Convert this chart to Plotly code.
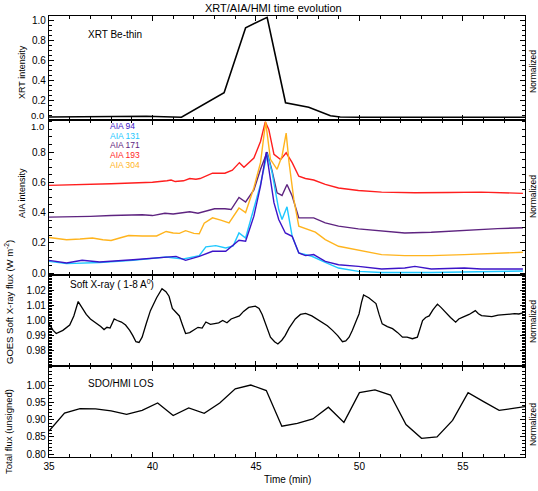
import plotly.graph_objects as go

# ---------------- data ----------------
xrt_t = [35.0, 38.25, 39.7, 41.4, 43.46, 44.5, 45.54, 46.43, 47.55, 48.6, 49.07, 50.0, 52.0, 54.0, 56.0, 58.0]
xrt_v = [0.03, 0.037, 0.037, 0.027, 0.273, 0.923, 1.027, 0.173, 0.127, 0.043, 0.03, 0.027, 0.027, 0.027, 0.027, 0.027]

aia193_t = [35.0, 36.0, 37.0, 38.0, 39.0, 40.0, 40.7, 40.9, 41.1, 41.5, 41.8, 42.1, 42.3, 42.9, 43.5, 43.86, 44.2, 44.42,
            44.9, 45.22, 45.45, 45.62, 45.87, 46.19, 46.46, 46.75, 47.07, 47.39, 47.79, 48.35, 48.99, 49.95, 51.07,
            52.68, 54.28, 55.88, 57.9]
aia193_v = [0.58, 0.582, 0.587, 0.59, 0.595, 0.60, 0.61, 0.615, 0.605, 0.61, 0.625, 0.62, 0.625, 0.66, 0.66, 0.68, 0.73, 0.70,
            0.76, 0.87, 1.0, 0.95, 0.785, 0.75, 0.795, 0.73, 0.64, 0.625, 0.615, 0.586, 0.562, 0.546, 0.535,
            0.531, 0.533, 0.535, 0.527]

aia171_t = [35.0, 36.0, 37.0, 38.0, 39.0, 39.5, 40.0, 40.6, 41.0, 41.4, 41.8, 42.2, 42.6, 43.0, 43.5, 43.8, 44.18, 44.5,
            44.9, 45.22, 45.54, 45.78, 46.02, 46.26, 46.5, 46.75, 47.07, 47.79, 48.35, 48.99, 49.95, 51.07, 52.19,
            53.47, 55.07, 56.68, 57.9]
aia171_v = [0.37, 0.37, 0.375, 0.38, 0.385, 0.385, 0.38, 0.395, 0.39, 0.40, 0.405, 0.395, 0.41, 0.425, 0.425, 0.42, 0.50, 0.47,
            0.55, 0.686, 0.80, 0.675, 0.53, 0.513, 0.586, 0.509, 0.365, 0.365, 0.332, 0.31, 0.292, 0.277, 0.265,
            0.27, 0.283, 0.294, 0.299]

aia304_t = [35.0, 35.85, 36.5, 37.1, 37.6, 38.0, 38.5, 38.85, 39.5, 40.2, 40.66, 41.0, 41.3, 41.6, 42.0, 42.26, 42.5, 42.9,
            43.3, 43.7, 44.18, 44.5, 44.9, 45.22, 45.47, 45.7, 46.02, 46.26, 46.46, 46.6, 46.83, 47.07, 47.87, 48.35,
            48.99, 49.95, 51.07, 52.19, 53.47, 55.07, 56.68, 57.9]
aia304_v = [0.235, 0.22, 0.225, 0.232, 0.22, 0.215, 0.235, 0.248, 0.245, 0.245, 0.275, 0.265, 0.262, 0.28, 0.262, 0.26, 0.33, 0.365,
            0.35, 0.332, 0.43, 0.40, 0.564, 0.73, 1.0, 0.752, 0.686, 0.774, 0.925, 0.73, 0.487, 0.31, 0.27, 0.221,
            0.177, 0.15, 0.122, 0.115, 0.115, 0.122, 0.128, 0.137]

aia131_t = [35.0, 35.85, 37.45, 39.06, 40.66, 41.5, 42.26, 42.58, 43.06, 43.54, 43.9, 44.18, 44.5, 44.9, 45.22, 45.54,
            45.78, 46.1, 46.26, 46.5, 46.75, 47.07, 47.7, 48.35, 48.99, 49.95, 51.07, 53.47, 55.88, 57.9]
aia131_v = [0.077, 0.062, 0.07, 0.084, 0.106, 0.093, 0.115, 0.173, 0.181, 0.166, 0.18, 0.265, 0.232, 0.42, 0.586, 0.79,
            0.664, 0.42, 0.354, 0.438, 0.243, 0.133, 0.111, 0.071, 0.033, 0.011, 0.004, 0.004, 0.009, 0.013]

aia94_t = [35.0, 35.85, 36.6, 37.45, 39.06, 40.3, 41.14, 41.6, 42.26, 42.9, 43.54, 44.18, 44.5, 44.9, 45.22, 45.5,
           45.62, 45.87, 46.1, 46.42, 46.75, 47.07, 47.39, 47.79, 48.35, 48.99, 49.95, 51.07, 52.19, 52.68, 53.47,
           55.07, 55.88, 57.9]
aia94_v = [0.084, 0.066, 0.084, 0.073, 0.088, 0.10, 0.11, 0.084, 0.11, 0.144, 0.144, 0.217, 0.21, 0.376, 0.575, 0.80,
           0.70, 0.465, 0.354, 0.265, 0.243, 0.133, 0.115, 0.122, 0.077, 0.055, 0.044, 0.027, 0.033, 0.044, 0.027,
           0.033, 0.027, 0.027]

goes_t = [35.0, 35.2, 35.35, 35.5, 35.67, 36.0, 36.2, 36.41, 36.6, 36.8, 37.0, 37.2, 37.34, 37.5, 37.66, 37.8, 37.95,
          38.15, 38.3, 38.5, 38.7, 38.9, 39.05, 39.2, 39.35, 39.5, 39.7, 39.9, 40.2, 40.46, 40.65, 40.8, 40.96, 41.1,
          41.3, 41.45, 41.6, 41.8, 41.95, 42.2, 42.4, 42.58, 42.8, 43.0, 43.2, 43.39, 43.6, 43.8, 44.0, 44.2, 44.4,
          44.65, 44.97, 45.15, 45.3, 45.5, 45.7, 45.9, 46.06, 46.25, 46.41, 46.6, 46.9, 47.15, 47.4, 47.7, 47.95,
          48.2, 48.45, 48.7, 48.95, 49.18, 49.34, 49.5, 49.66, 49.85, 49.98, 50.1, 50.2, 50.45, 50.8, 50.95, 51.1,
          51.35, 51.6, 51.85, 52.08, 52.3, 52.56, 52.8, 52.95, 53.05, 53.2, 53.37, 53.55, 53.77, 53.95, 54.17, 54.4,
          54.65, 54.8, 54.97, 55.3, 55.6, 55.75, 55.9, 56.15, 56.4, 56.7, 57.0, 57.3, 57.5, 57.7, 57.9]
goes_v = [0.9978, 0.9935, 0.9914, 0.9925, 0.9935, 0.997, 1.003, 1.0125, 1.008, 1.004, 1.001, 0.999, 0.998, 0.996, 0.994,
          0.9955, 0.995, 1.001, 1.0, 0.999, 0.997, 0.9935, 0.990, 0.986, 0.9855, 0.989, 0.998, 1.0065, 1.015, 1.021,
          1.019, 1.016, 1.008, 1.006, 1.003, 0.997, 0.9914, 0.992, 0.9935, 0.9955, 0.995, 0.999, 0.9974, 0.998,
          0.9985, 1.0, 0.9985, 1.001, 1.002, 1.003, 1.006, 1.0086, 1.0095, 1.008, 1.004, 0.996, 0.989, 0.986, 0.9845,
          0.987, 0.990, 0.995, 1.001, 1.004, 1.0047, 1.003, 1.001, 0.9989, 0.9965, 0.9935, 0.990, 0.986, 0.9865,
          0.989, 0.9935, 1.0, 1.0043, 1.012, 1.0168, 1.015, 1.0112, 1.004, 0.9978, 0.996, 0.9946, 0.992, 0.989,
          0.989, 0.988, 0.989, 0.995, 1.0, 1.002, 1.003, 1.007, 1.0108, 1.0085, 1.005, 1.002, 0.9989, 1.001, 1.002,
          1.004, 1.0065, 1.0045, 1.0032, 1.0028, 1.0026, 1.0035, 1.0039, 1.0038, 1.0045, 1.0043, 1.005]

hmi_t = [35.0, 35.75, 36.5, 37.25, 38.0, 38.75, 39.5, 40.25, 41.0, 41.75, 42.5, 43.25, 44.0, 44.75, 45.5, 46.25, 47.0,
         47.75, 48.5, 49.25, 50.0, 50.75, 51.5, 52.25, 53.0, 53.75, 54.5, 55.25, 56.0, 56.75, 57.5, 58.25]
hmi_v = [0.867, 0.919, 0.932, 0.931, 0.925, 0.915, 0.927, 0.948, 0.912, 0.934, 0.918, 0.948, 0.989, 1.0, 0.984, 0.881,
         0.889, 0.902, 0.936, 0.892, 0.978, 0.986, 0.971, 0.886, 0.846, 0.85, 0.898, 0.978, 0.952, 0.927, 0.933, 0.94]

aia_names = ["AIA 94", "AIA 131", "AIA 171", "AIA 193", "AIA 304"]
aia_colors = ["#3c14c8", "#1ec8ff", "#5e2480", "#ff1e1e", "#ffb41e"]

x_range = [35, 58]
x_ticks = [35, 40, 45, 50, 55]
top_ticks = [0.2, 0.4, 0.6, 0.8, 1.0]
aia_ticks = [0.0, 0.2, 0.4, 0.6, 0.8]
goes_ticks = [0.98, 0.99, 1.00, 1.01, 1.02]
hmi_ticks = [0.80, 0.85, 0.90, 0.95, 1.00]

# ---------------- figure ----------------
W, H = 538, 491
ml, mr, mt, mb = 49, 13, 16, 34
ph = H - mt - mb

def frac(ypix):
    return (H - mb - ypix) / ph

doms = [[frac(120), 1.0], [frac(275), frac(120)], [frac(366), frac(275)], [0.0, frac(366)]]

FONT = "Liberation Sans"
fig = go.Figure()

fig.add_trace(go.Scatter(x=xrt_t, y=xrt_v, mode="lines", line=dict(color="black", width=1.6),
                         xaxis="x", yaxis="y", showlegend=False))
series = [(aia94_t, aia94_v), (aia131_t, aia131_v), (aia171_t, aia171_v), (aia193_t, aia193_v), (aia304_t, aia304_v)]
order = [3, 2, 4, 1, 0]
for i in order:
    t, v = series[i]
    fig.add_trace(go.Scatter(x=t, y=v, mode="lines", line=dict(color=aia_colors[i], width=1.4),
                             xaxis="x2", yaxis="y2", showlegend=False))
fig.add_trace(go.Scatter(x=goes_t, y=goes_v, mode="lines", line=dict(color="black", width=1.3),
                         xaxis="x3", yaxis="y3", showlegend=False))
fig.add_trace(go.Scatter(x=hmi_t, y=hmi_v, mode="lines", line=dict(color="black", width=1.3),
                         xaxis="x4", yaxis="y4", showlegend=False))

tickfont = dict(family=FONT, size=10, color="black")

def xax(anchor, labels):
    return dict(range=x_range, domain=[0, 1], anchor=anchor, showline=True, linecolor="black", linewidth=1.2,
                mirror="allticks", ticks="inside", ticklen=5, tickcolor="black", tickvals=x_ticks,
                showticklabels=labels, tickfont=tickfont, showgrid=False, zeroline=False,
                minor=dict(ticks="inside", ticklen=3, dtick=1, tickcolor="black", showgrid=False))

def yax(anchor, dom, rng, tvals, fmt, mdtick, mtick0):
    return dict(range=rng, domain=dom, anchor=anchor, showline=True, linecolor="black", linewidth=1.2,
                mirror="allticks", ticks="inside", ticklen=5, tickcolor="black", tickvals=tvals,
                ticktext=[fmt % v for v in tvals],
                tickfont=tickfont, showgrid=False, zeroline=False,
                minor=dict(ticks="inside", ticklen=3, dtick=mdtick, tick0=mtick0, tickcolor="black", showgrid=False))

fig.update_layout(
    width=W, height=H, margin=dict(l=ml, r=mr, t=mt, b=mb),
    paper_bgcolor="white", plot_bgcolor="white",
    xaxis=xax("y", False), xaxis2=xax("y2", False), xaxis3=xax("y3", False), xaxis4=xax("y4", True),
    yaxis=yax("x", doms[0], [0.0, 1.04], top_ticks, "%.1f", 0.05, 0),
    yaxis2=yax("x2", doms[1], [-0.013, 1.012], aia_ticks, "%.1f", 0.05, 0),
    yaxis3=yax("x3", doms[2], [0.97, 1.03], goes_ticks, "%.2f", 0.001, 0.97),
    yaxis4=yax("x4", doms[3], [0.792, 1.055], hmi_ticks, "%.2f", 0.01, 0.8),
)

anns = []

def px2paper_x(x):
    return (x - ml) / (W - ml - mr)

def px2paper_y(y):
    return (H - mb - y) / ph

def pann(text, x, y, size=10, angle=0, xanchor="center", yanchor="middle", color="black"):
    anns.append(dict(text=text, x=px2paper_x(x), y=px2paper_y(y), xref="paper", yref="paper",
                     showarrow=False, textangle=angle, xanchor=xanchor, yanchor=yanchor,
                     font=dict(family=FONT, size=size, color=color)))

# edge tick labels (pushed inside their panels, as in the original)
pann("0.0", 46, 115.5, size=9.5, xanchor="right")
pann("1.0", 46, 126, size=9.5, xanchor="right")

pann("XRT/AIA/HMI time evolution", 273, 8, size=11)
pann("Time (min)", 287, 480, size=10)
pann("XRT Be-thin", 86, 35, size=10, xanchor="left")
for k, (nm, col) in enumerate(zip(aia_names, aia_colors)):
    pann(nm, 108, 126 + k * 9.7, size=8.5, xanchor="left", color=col)
pann("Soft X-ray ( 1-8 A<sup>0</sup>)", 68, 284, size=10, xanchor="left")
pann("SDO/HMI LOS", 86, 383, size=10, xanchor="left")

pann("XRT intensity", 22, 72, size=9, angle=-90)
pann("AIA intensity", 22, 193, size=9, angle=-90)
pann("GOES Soft X-ray flux (W m<sup>-2</sup>)", 9, 302, size=9.5, angle=-90)
pann("Total flux (unsigned)", 8, 432, size=9.5, angle=-90)
for yc in [72, 197, 322, 425]:
    pann("Normalized", 533, yc, size=8.5, angle=-90)

fig.update_layout(annotations=anns)
fig.write_html("out.html")
